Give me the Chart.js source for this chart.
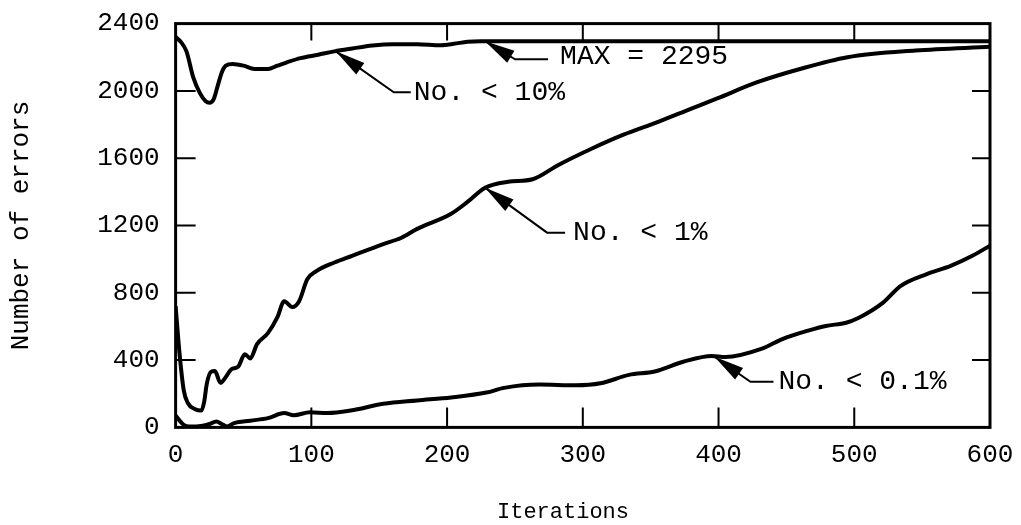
<!DOCTYPE html>
<html>
<head>
<meta charset="utf-8">
<script src="https://cdn.jsdelivr.net/npm/chart.js@4.4.1/dist/chart.umd.min.js"></script>
<style>
  html, body { margin: 0; padding: 0; background: #fff; }
  #wrap { width: 1021px; height: 525px; }
</style>
</head>
<body>
<div id="wrap"><canvas id="chart"></canvas></div>
<script>
const xTicks = [0, 100, 200, 300, 400, 500, 600];
const yTicks = [0, 400, 800, 1200, 1600, 2000, 2400];

// No. < 10%
const tenIters = [0, 4, 8, 13, 18, 22, 25, 28, 31, 34, 37, 42, 50, 58, 68, 75, 82, 92, 105, 117, 130, 145, 160, 178, 195, 205, 215, 225, 400, 600];
const tenErrors = [2320, 2290, 2235, 2080, 1985, 1940, 1930, 1950, 2030, 2110, 2150, 2160, 2150, 2130, 2130, 2150, 2170, 2195, 2215, 2235, 2252, 2270, 2278, 2278, 2272, 2280, 2292, 2295, 2295, 2295];

// No. < 1%
const oneIters = [0, 3, 6, 9, 14, 19, 21, 23, 26, 29, 33, 37, 41, 46, 51, 55, 60, 68, 75, 80, 86, 91, 97, 104, 117, 130, 153, 166, 178, 203, 215, 228, 245, 263, 282, 306, 330, 355, 380, 399, 428, 460, 495, 545, 600];
const oneErrors = [720, 430, 220, 145, 110, 100, 150, 260, 330, 335, 265, 300, 345, 360, 435, 410, 495, 560, 655, 750, 715, 750, 880, 930, 980, 1020, 1090, 1126, 1180, 1270, 1340, 1425, 1460, 1475, 1560, 1655, 1740, 1815, 1895, 1955, 2050, 2130, 2200, 2240, 2262];

// No. < 0.1%
const pointOneIters = [0, 3, 6, 10, 15, 20, 25, 30, 34, 38, 43, 55, 68, 80, 87, 99, 112, 129, 153, 178, 203, 229, 242, 268, 295, 313, 334, 353, 374, 395, 405, 432, 447, 466, 479, 494, 503, 521, 534, 553, 571, 587, 600];
const pointOneErrors = [70, 40, 15, 5, 5, 10, 20, 35, 20, 5, 25, 40, 55, 85, 72, 90, 85, 100, 140, 160, 178, 207, 235, 255, 250, 262, 312, 332, 390, 425, 418, 468, 525, 575, 603, 622, 650, 740, 840, 910, 960, 1020, 1080];

const notes = [
    { text: 'MAX = 2295', x: 228, y: 2295, dx: 30, dy: 18, hl: 33, gap: 12, ty: -3 },
    { text: 'No. < 10%', x: 118, y: 2235, dx: 58, dy: 41, hl: 17, gap: 3, ty: 0 },
    { text: 'No. < 1%', x: 228, y: 1425, dx: 62, dy: 45, hl: 18, gap: 8, ty: 0 },
    { text: 'No. < 0.1%', x: 397, y: 420, dx: 36, dy: 25, hl: 23, gap: 5, ty: 0 }
];

const toPoints = (xs, ys) => xs.map((x, i) => ({ x, y: ys[i] }));

const FONT = '"Liberation Mono", "Courier New", monospace';

const lineStyle = {
    borderColor: '#000',
    borderWidth: 4,
    pointRadius: 0,
    fill: false,
    cubicInterpolationMode: 'monotone'
};

const frame = {
    id: 'frame',
    afterDraw(chart) {
        const { ctx, chartArea: a, scales } = chart;
        ctx.save();
        ctx.strokeStyle = '#000';
        ctx.lineWidth = 3;
        ctx.strokeRect(a.left, a.top, a.right - a.left, a.bottom - a.top);

        ctx.lineWidth = 2;
        ctx.beginPath();
        xTicks.slice(1, -1).forEach(v => {
            const px = scales.x.getPixelForValue(v);
            ctx.moveTo(px, a.bottom);
            ctx.lineTo(px, a.bottom - 20);
            ctx.moveTo(px, a.top);
            ctx.lineTo(px, a.top + 17);
        });
        yTicks.slice(1, -1).forEach(v => {
            const py = scales.y.getPixelForValue(v);
            ctx.moveTo(a.left, py);
            ctx.lineTo(a.left + 20, py);
            ctx.moveTo(a.right, py);
            ctx.lineTo(a.right - 18, py);
        });
        ctx.stroke();

        // arrows + labels
        ctx.font = '28px ' + FONT;
        ctx.fillStyle = '#000';
        ctx.textBaseline = 'middle';
        notes.forEach(n => {
            const tx = scales.x.getPixelForValue(n.x);
            const ty = scales.y.getPixelForValue(n.y);
            const ex = tx + n.dx, ey = ty + n.dy;
            ctx.lineWidth = 2;
            ctx.beginPath();
            ctx.moveTo(tx, ty);
            ctx.lineTo(ex, ey);
            ctx.lineTo(ex + n.hl, ey);
            ctx.stroke();

            const ang = Math.atan2(ty - ey, tx - ex);
            const len = 30, half = 7;
            const bx = tx - len * Math.cos(ang), by = ty - len * Math.sin(ang);
            ctx.beginPath();
            ctx.moveTo(tx, ty);
            ctx.lineTo(bx + half * Math.sin(ang), by - half * Math.cos(ang));
            ctx.lineTo(bx - half * Math.sin(ang), by + half * Math.cos(ang));
            ctx.closePath();
            ctx.fill();

            ctx.fillText(n.text, ex + n.hl + n.gap, ey + n.ty);
        });
        ctx.restore();
    }
};

new Chart(document.getElementById('chart'), {
    type: 'line',
    data: {
        datasets: [
            { label: 'No. < 10%', data: toPoints(tenIters, tenErrors), ...lineStyle },
            { label: 'No. < 1%', data: toPoints(oneIters, oneErrors), ...lineStyle },
            { label: 'No. < 0.1%', data: toPoints(pointOneIters, pointOneErrors), ...lineStyle }
        ]
    },
    options: {
        responsive: true,
        maintainAspectRatio: false,
        animation: false,
        layout: { padding: { left: 6, right: 31, top: 4, bottom: 0 } },
        plugins: {
            legend: { display: false },
            tooltip: { enabled: false }
        },
        scales: {
            x: {
                type: 'linear',
                min: 0,
                max: 600,
                afterBuildTicks: axis => { axis.ticks = xTicks.map(value => ({ value })); },
                grid: { display: false },
                border: { display: false },
                ticks: {
                    color: '#000',
                    font: { family: FONT, size: 26 },
                    padding: 4,
                    maxRotation: 0,
                    callback: v => String(v)
                },
                title: {
                    display: true,
                    text: 'Iterations   ',
                    color: '#000',
                    font: { family: FONT, size: 22 },
                    padding: { top: 24, bottom: 0 }
                }
            },
            y: {
                min: 0,
                max: 2400,
                afterBuildTicks: axis => { axis.ticks = yTicks.map(value => ({ value })); },
                grid: { display: false },
                border: { display: false },
                ticks: {
                    color: '#000',
                    font: { family: FONT, size: 26 },
                    padding: 8,
                    callback: v => String(v)
                },
                title: {
                    display: true,
                    text: 'Number of errors',
                    color: '#000',
                    font: { family: FONT, size: 26 },
                    padding: { top: 0, bottom: 52 }
                }
            }
        }
    },
    plugins: [frame]
});
</script>
</body>
</html>
